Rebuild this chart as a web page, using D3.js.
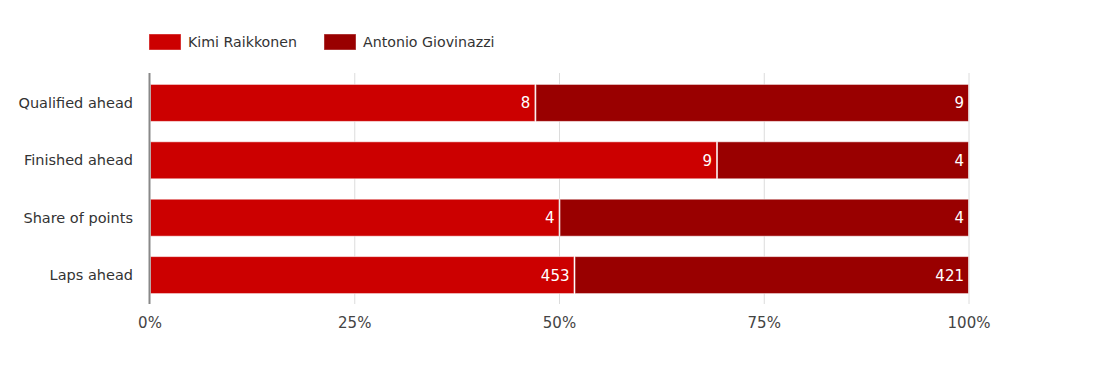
<!DOCTYPE html>
<meta charset="utf-8">
<script src="https://d3js.org/d3.v7.min.js"></script>
<style>
  body { margin: 0; background: #fff; }
  text { font-family: "DejaVu Sans", Tahoma, sans-serif; }
</style>
<div id="my_dataviz"></div>
<script>
// data
var categories = ["Qualified ahead", "Finished ahead", "Share of points", "Laps ahead"];
var drivers = ["Kimi Raikkonen", "Antonio Giovinazzi"];
var kimi = [8, 9, 4, 453];
var antonio = [9, 4, 4, 421];
var ticks = [0, 0.25, 0.5, 0.75, 1];
var colors = ["#cc0000", "#990000"];

var width = 1117, height = 375;
var margin = { top: 73, right: 148, bottom: 71, left: 150 };

var svg = d3.select("#my_dataviz")
  .append("svg")
  .attr("width", width)
  .attr("height", height);

var x = d3.scaleLinear().domain([0, 1]).range([margin.left, width - margin.right]);
var y = d3.scaleBand()
  .domain(categories)
  .range([margin.top, height - margin.bottom])
  .paddingInner(0.355)
  .paddingOuter(0.19);

// gridlines
svg.append("g")
  .selectAll("line")
  .data(ticks.slice(1))
  .enter()
  .append("line")
  .attr("x1", d => x(d)).attr("x2", d => x(d))
  .attr("y1", margin.top).attr("y2", height - margin.bottom)
  .attr("stroke", "#dcdcdc")
  .attr("stroke-width", 1);

// x tick labels
svg.append("g")
  .selectAll("text")
  .data(ticks)
  .enter()
  .append("text")
  .attr("x", d => x(d))
  .attr("y", 328)
  .attr("text-anchor", "middle")
  .attr("fill", "#444")
  .style("font-size", "15px")
  .text(d => d3.format(".0%")(d));

// stacked rows
var rows = categories.map(function (c, i) {
  var total = kimi[i] + antonio[i];
  return [
    { cat: c, x0: 0, x1: kimi[i] / total, value: kimi[i], color: colors[0] },
    { cat: c, x0: kimi[i] / total, x1: 1, value: antonio[i], color: colors[1] }
  ];
});
var segs = rows.flat();

svg.append("g")
  .selectAll("rect")
  .data(segs)
  .enter()
  .append("rect")
  .attr("x", d => x(d.x0) + 0.5)
  .attr("y", d => y(d.cat) + 0.5)
  .attr("width", d => x(d.x1) - x(d.x0) - 1)
  .attr("height", y.bandwidth())
  .attr("fill", d => d.color)
  .attr("stroke", "rgba(255,255,255,0.55)")
  .attr("stroke-width", 1);

svg.append("g")
  .selectAll("text")
  .data(segs)
  .enter()
  .append("text")
  .attr("x", d => x(d.x1) - 5)
  .attr("y", d => y(d.cat) + y.bandwidth() / 2 + 6)
  .attr("text-anchor", "end")
  .attr("fill", "#fff")
  .style("font-size", "15px")
  .text(d => d.value);

// category labels
svg.append("g")
  .selectAll("text")
  .data(categories)
  .enter()
  .append("text")
  .attr("x", 133)
  .attr("y", d => y(d) + y.bandwidth() / 2 + 5.5)
  .attr("text-anchor", "end")
  .attr("fill", "#333")
  .style("font-size", "14.5px")
  .text(d => d);

// y axis line
svg.append("line")
  .attr("x1", margin.left - 0.5).attr("x2", margin.left - 0.5)
  .attr("y1", margin.top).attr("y2", height - margin.bottom)
  .attr("stroke", "#888")
  .attr("stroke-width", 2);

// legend
var legendX = [149, 324];
var legend = svg.append("g")
  .selectAll("g")
  .data(drivers)
  .enter()
  .append("g")
  .attr("transform", (d, i) => "translate(" + legendX[i] + ",34)");
legend.append("rect")
  .attr("width", 32).attr("height", 16)
  .attr("fill", (d, i) => colors[i])
  .attr("stroke", "rgba(255,255,255,0.4)");
legend.append("text")
  .attr("x", 39)
  .attr("y", 13)
  .attr("fill", "#333")
  .style("font-size", "14.2px")
  .text(d => d);
</script>
